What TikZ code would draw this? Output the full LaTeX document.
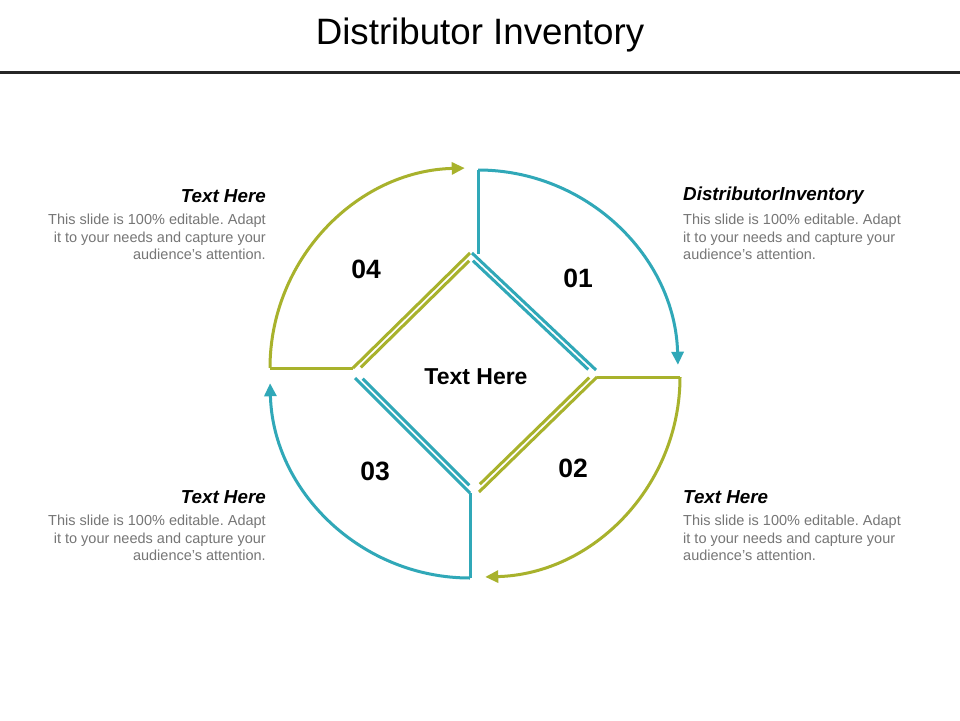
\documentclass[tikz,border=0pt]{standalone}
\usepackage{fontspec}
\setmainfont{Liberation Sans}
\frenchspacing
\usetikzlibrary{calc,arrows.meta}
\definecolor{teal1}{RGB}{48,168,184}
\definecolor{olive1}{RGB}{168,178,44}
\definecolor{bodygray}{RGB}{118,118,118}
\begin{document}
\begin{tikzpicture}[x=1pt,y=1pt,
  seg/.style={line width=3pt,line join=miter},
  tip/.style={-{Triangle[length=13pt,width=12pt]}},
  head/.style={font=\fontsize{18.8}{22}\selectfont\bfseries\itshape,inner sep=0},
  body/.style={font=\fontsize{14.5}{17.5}\selectfont,text=bodygray,inner sep=0},
  num/.style={font=\fontsize{26.5}{30}\selectfont\bfseries}]
\useasboundingbox[fill=white] (0,0) rectangle (960,-720);
\node[font=\fontsize{36.7}{42}\selectfont] (title) at (480,-35) {Distributor Inventory};
\draw[line width=3pt,black!85] (0,-72) coordinate (l1) -- (960,-72) coordinate (l2);
% quadrant 01
\coordinate (a1) at (478,-170); \coordinate (b1) at (478,-254);
\coordinate (c1) at (472,-253); \coordinate (d1) at (596,-370);
\draw[seg,teal1] (a1) -- (b1);
\draw[seg,teal1] (c1) -- (d1);
\draw[seg,teal1,shorten <=6pt,shorten >=6pt] ($(c1)!5pt!-90:(d1)$) -- ($(d1)!5pt!90:(c1)$);
\draw[seg,teal1,tip] (a1) arc[start angle=90,end angle=1.5,radius=200];
% quadrant 02
\coordinate (a2) at (680,-377); \coordinate (c2) at (597,-377); \coordinate (d2) at (479,-492);
\draw[seg,olive1] (c2) -- (a2);
\draw[seg,olive1] (c2) -- (d2);
\draw[seg,olive1,shorten <=6pt,shorten >=6pt] ($(c2)!5pt!-90:(d2)$) -- ($(d2)!5pt!90:(c2)$);
\draw[seg,olive1,tip] (a2) arc[start angle=0,end angle=-88.5,radius=200];
% quadrant 03
\coordinate (a3) at (470,-578); \coordinate (c3) at (470,-493); \coordinate (d3) at (355,-378);
\draw[seg,teal1] (a3) -- (c3);
\draw[seg,teal1] (c3) -- (d3);
\draw[seg,teal1,shorten <=6pt,shorten >=6pt] ($(c3)!5pt!-90:(d3)$) -- ($(d3)!5pt!90:(c3)$);
\draw[seg,teal1,tip] (a3) arc[start angle=-90,end angle=-178.5,radius=200];
% quadrant 04
\coordinate (a4) at (270,-368); \coordinate (c4) at (353,-368); \coordinate (d4) at (470,-253);
\draw[seg,olive1] (a4) -- (c4);
\draw[seg,olive1] (c4) -- (d4);
\draw[seg,olive1,shorten <=6pt,shorten >=6pt] ($(c4)!5pt!-90:(d4)$) -- ($(d4)!5pt!90:(c4)$);
\draw[seg,olive1,tip] (a4) arc[start angle=180,end angle=91.5,radius=200];
% texts
\node[font=\fontsize{23}{26}\selectfont\bfseries] (ctr) at (476,-377) {Text Here};
\node[num] (n1) at (578,-278) {01};
\node[num] (n2) at (573,-468) {02};
\node[num] (n3) at (375,-471) {03};
\node[num] (n4) at (366,-269) {04};
\node[head,anchor=east] (h4) at (266,-196) {Text Here};
\node[body,anchor=north east,align=right] (t4) at (266,-214) {This slide is 100\% editable. Adapt\\it to your needs and capture your\\audience's attention.};
\node[head,anchor=east] (h3) at (266,-497) {Text Here};
\node[body,anchor=north east,align=right] (t3) at (266,-515) {This slide is 100\% editable. Adapt\\it to your needs and capture your\\audience's attention.};
\node[head,anchor=west] (h1) at (683,-196) {DistributorInventory};
\node[body,anchor=north west,align=left] (t1) at (683,-214) {This slide is 100\% editable. Adapt\\it to your needs and capture your\\audience's attention.};
\node[head,anchor=west] (h2) at (683,-497) {Text Here};
\node[body,anchor=north west,align=left] (t2) at (683,-515) {This slide is 100\% editable. Adapt\\it to your needs and capture your\\audience's attention.};
\end{tikzpicture}
\end{document}
